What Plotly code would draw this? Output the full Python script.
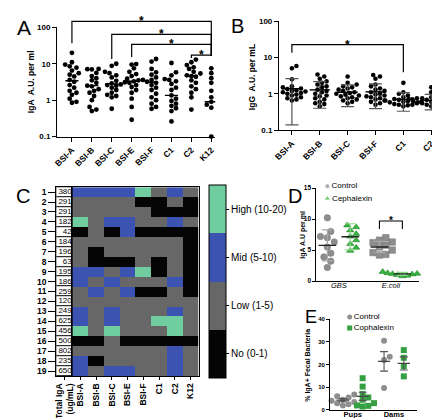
import numpy as np
import plotly.graph_objects as go

W, H = 440, 418
FONT = "Arial, 'Liberation Sans', sans-serif"

def fx(p):
    return p / W

def fy(p):
    return 1 - p / H

# ---------------- Panel A data (IgA, log scale) ----------------
a_cats = ["BSI-A", "BSI-B", "BSI-C", "BSI-E", "BSI-F", "C1", "C2", "K12"]
a_bsi_a = [20, 11, 9.5, 8.5, 7.8, 6.5, 5.5, 5.0, 4.5, 3.6, 3.2, 2.6, 2.2, 1.8, 1.6, 1.4, 1.1, 0.9, 0.85]
a_bsi_b = [7.2, 7.1, 7.0, 5.6, 4.6, 4.0, 3.5, 3.0, 2.5, 2.4, 2.0, 1.8, 1.6, 1.3, 1.0, 0.65, 0.55, 0.5]
a_bsi_c = [10, 8.8, 6.0, 5.5, 4.8, 4.2, 3.4, 2.9, 2.7, 2.6, 2.5, 2.2, 1.9, 1.6, 1.4, 1.3, 1.2, 0.58]
a_bsi_e = [9.8, 9.5, 7.5, 6.0, 5.2, 4.6, 3.9, 3.6, 3.5, 3.3, 3.1, 3.0, 2.6, 2.3, 1.9, 1.6, 1.1, 0.65, 0.29]
a_bsi_f = [13.5, 11.5, 7.2, 5.8, 5.0, 4.2, 3.6, 3.2, 3.0, 2.6, 2.2, 1.9, 1.5, 1.2, 1.0, 0.8, 0.65, 0.58]
a_c1 = [10.5, 5.8, 4.8, 3.8, 3.6, 3.3, 2.8, 2.2, 1.9, 1.35, 1.1, 0.95, 0.8, 0.7, 0.6, 0.5, 0.26]
a_c2 = [13, 11, 9.2, 8.0, 7.2, 6.0, 5.4, 4.8, 4.6, 4.4, 3.5, 3.0, 2.4, 2.0, 1.6, 1.2, 0.55]
a_k12 = [7.5, 6.5, 5.5, 4.6, 4.0, 3.5, 3.0, 2.2, 1.8, 1.2, 1.0, 0.9, 0.8, 0.75, 0.7, 0.62, 0.1]
a_median = [3.4, 2.5, 2.8, 3.3, 3.1, 1.35, 4.7, 0.9]
a_sig_pairs = [("BSI-A", "K12"), ("BSI-C", "K12"), ("BSI-E", "K12"), ("C2", "K12")]

# ---------------- Panel B data (IgG, log scale) ----------------
b_cats = ["BSI-A", "BSI-B", "BSI-C", "BSI-F", "C1", "C2"]
b_bsi_a = [5.8, 5.0, 2.5, 1.6, 1.5, 1.4, 1.35, 1.3, 1.25, 1.2, 1.15, 1.1, 1.05, 1.0, 0.95, 0.9, 0.8, 0.75, 0.7, 0.65]
b_bsi_b = [3.4, 3.0, 2.6, 2.2, 2.0, 1.8, 1.6, 1.5, 1.3, 1.2, 1.1, 1.0, 0.9, 0.85, 0.75, 0.7, 0.6, 0.55, 0.52, 0.45]
b_bsi_c = [3.0, 2.0, 1.8, 1.6, 1.5, 1.4, 1.3, 1.2, 1.1, 1.05, 1.0, 0.95, 0.9, 0.85, 0.8, 0.75, 0.7, 0.65, 0.6, 0.55]
b_bsi_f = [3.3, 3.0, 2.6, 1.8, 1.6, 1.4, 1.3, 1.2, 1.1, 1.0, 0.95, 0.9, 0.85, 0.8, 0.75, 0.7, 0.65, 0.6, 0.55, 0.5]
b_c1 = [2.0, 1.1, 1.0, 0.9, 0.8, 0.75, 0.72, 0.7, 0.68, 0.65, 0.63, 0.6, 0.6, 0.58, 0.55, 0.52, 0.5, 0.5, 0.48, 0.45]
b_c2 = [1.5, 1.1, 0.95, 0.85, 0.8, 0.75, 0.72, 0.7, 0.68, 0.65, 0.65, 0.62, 0.6, 0.6, 0.58, 0.55, 0.55, 0.52, 0.5, 0.48, 0.45]
b_mean = [1.38, 1.28, 1.1, 1.13, 0.70, 0.66]
b_sd = [1.24, 0.88, 0.66, 0.74, 0.37, 0.30]
b_sig_pairs = [("BSI-A", "C1")]

# ---------------- Panel C data (heatmap) ----------------
c_strains = ["BSI-A", "BSI-B", "BSI-C", "BSI-E", "BSI-F", "C1", "C2", "K12"]
c_rows = list(range(1, 20))
c_total_iga = [380, 291, 291, 182, 42, 184, 196, 63, 195, 186, 259, 120, 249, 625, 456, 500, 802, 235, 650]
c_levels = [
    [2, 2, 2, 2, 3, 1, 2, 1],
    [1, 1, 1, 1, 0, 0, 1, 0],
    [1, 1, 1, 1, 1, 0, 0, 0],
    [3, 1, 2, 2, 1, 1, 2, 1],
    [0, 1, 0, 2, 0, 0, 0, 0],
    [1, 1, 1, 1, 1, 1, 1, 0],
    [1, 0, 1, 1, 1, 1, 1, 0],
    [1, 0, 0, 0, 1, 0, 1, 0],
    [2, 2, 1, 2, 3, 0, 1, 0],
    [2, 1, 2, 1, 1, 1, 2, 0],
    [1, 2, 1, 2, 0, 0, 1, 0],
    [1, 1, 1, 1, 1, 1, 1, 1],
    [2, 1, 2, 1, 1, 1, 2, 1],
    [2, 1, 2, 1, 1, 3, 3, 1],
    [3, 1, 3, 1, 1, 1, 3, 1],
    [0, 0, 1, 0, 0, 0, 0, 0],
    [1, 1, 1, 1, 1, 1, 2, 1],
    [2, 0, 1, 1, 1, 1, 2, 1],
    [2, 1, 2, 2, 1, 1, 2, 1],
]
c_level_names = ["No (0-1)", "Low (1-5)", "Mid (5-10)", "High (10-20)"]

# ---------------- Panel D data ----------------
d_groups = ["GBS", "E.coli"]
d_gbs_ctrl = [10.2, 8.0, 7.2, 7.0, 6.3, 5.5, 4.5, 3.9, 3.2, 2.2]
d_gbs_ceph = [9.0, 8.7, 8.2, 7.6, 7.2, 6.6, 6.0, 5.4, 4.9]
d_eco_ctrl = [7.0, 6.6, 6.3, 6.2, 5.8, 5.5, 5.0, 4.6, 4.3, 4.2]
d_eco_ceph = [1.5, 1.4, 1.3, 1.2, 1.15, 1.1, 1.0, 0.9, 0.8]
d_ctrl_mean = [5.75, 5.5]
d_ctrl_sd = [2.5, 0.9]
d_ceph_mean = [7.15, 1.15]
d_ceph_sd = [2.1, 0.25]
d_legend = ["Control", "Cephalexin"]

# ---------------- Panel E data ----------------
e_groups = ["Pups", "Dams"]
e_pup_ctrl = [6.8, 6.0, 5.5, 4.5, 4.0, 3.5, 3.0, 2.5, 2.0]
e_pup_ceph = [14.0, 10.3, 7.0, 5.5, 4.5, 3.0, 2.0, 1.8, 1.5]
e_dam_ctrl = [30.5, 23.5, 22.0, 9.7]
e_dam_ceph = [26.4, 23.0, 19.3, 14.8]
e_ctrl_mean = [4.3, 21.4]
e_ctrl_sem = [0.7, 4.3]
e_ceph_mean = [6.0, 20.5]
e_ceph_sem = [1.8, 2.9]
e_legend = ["Control", "Cophalexin"]

# ---------------- colours ----------------
HM_BLACK = "#050505"
HM_GRAY = "#676767"
HM_BLUE = "#3d53b2"
HM_GREEN = "#70cda0"
D_GRAY = "#8e8e8e"
D_GREEN = "#34b43c"
E_GREEN = "#35a042"


def swarm(vals, log, xpx, ypx, d):
    """Beeswarm offsets (in axis x units) so markers of diameter d px don't overlap."""
    v = np.asarray(vals, float)
    yv = (np.log10(v) if log else v) * ypx
    order = np.argsort(yv)
    pts = []
    offs = np.zeros(len(v))
    step = d * 0.5
    cands = [0.0]
    for j in range(1, 40):
        cands += [j * step, -j * step]
    for i in order:
        chosen = 0.0
        for c in cands:
            if all((c - px) ** 2 + (yv[i] - py) ** 2 >= d * d * 0.9 for px, py in pts):
                chosen = c
                break
        pts.append((chosen, yv[i]))
        offs[i] = chosen / xpx
    return offs


def seg_lines(centers, values, half):
    xs, ys = [], []
    for c, v in zip(centers, values):
        xs += [c - half, c + half, None]
        ys += [v, v, None]
    return xs, ys


fig = go.Figure()

# ================= Panel A =================
a_series = [a_bsi_a, a_bsi_b, a_bsi_c, a_bsi_e, a_bsi_f, a_c1, a_c2, a_k12]
for i, vals in enumerate(a_series):
    offs = swarm(vals, True, 20.3, 37.2, 4.6)
    fig.add_trace(go.Scatter(x=i + offs, y=vals, mode="markers", cliponaxis=False,
                             marker=dict(size=4.8, color="black"), xaxis="x", yaxis="y"))
mx, my = seg_lines(range(len(a_cats)), a_median, 0.33)
fig.add_trace(go.Scatter(x=mx, y=my, mode="lines", line=dict(color="black", width=1.4),
                         xaxis="x", yaxis="y"))

# ================= Panel B =================
b_series = [b_bsi_a, b_bsi_b, b_bsi_c, b_bsi_f, b_c1, b_c2]
for i, vals in enumerate(b_series):
    offs = swarm(vals, True, 28.4, 37.2, 4.6)
    fig.add_trace(go.Scatter(x=i + offs, y=vals, mode="markers", cliponaxis=False,
                             marker=dict(size=4.6, color="black"), xaxis="x2", yaxis="y2"))
fig.add_trace(go.Scatter(x=list(range(len(b_cats))), y=b_mean, mode="markers",
                         marker=dict(size=1, color="rgba(0,0,0,0)"),
                         error_y=dict(type="data", array=b_sd, color="#555555", thickness=1.2, width=6.5),
                         xaxis="x2", yaxis="y2"))
bx, by = seg_lines(range(len(b_cats)), b_mean, 0.36)
fig.add_trace(go.Scatter(x=bx, y=by, mode="lines", line=dict(color="black", width=1.4),
                         xaxis="x2", yaxis="y2"))

# ================= Panel C =================
fig.add_trace(go.Heatmap(
    z=c_levels, x=list(range(len(c_strains))), y=c_rows,
    zmin=-0.5, zmax=3.5,
    colorscale=[[0, HM_BLACK], [0.25, HM_BLACK], [0.25, HM_GRAY], [0.5, HM_GRAY],
                [0.5, HM_BLUE], [0.75, HM_BLUE], [0.75, HM_GREEN], [1, HM_GREEN]],
    showscale=True,
    colorbar=dict(
        x=fx(199), xanchor="left", xpad=0, ypad=0,
        y=fy(275.5), yanchor="middle",
        thickness=17, thicknessmode="pixels",
        len=193, lenmode="pixels",
        outlinewidth=1, outlinecolor="black",
        tickvals=[0, 1, 2, 3], ticktext=c_level_names,
        ticks="outside", ticklen=3, tickcolor="black",
        tickfont=dict(family=FONT, size=10, color="black"),
    ),
    xaxis="x4", yaxis="y4"))

fig.add_trace(go.Heatmap(
    z=[[0] for _ in c_rows], x=[0.5], y=c_rows,
    colorscale=[[0, "white"], [1, "white"]], showscale=False, ygap=1,
    xaxis="x3", yaxis="y3"))
fig.add_trace(go.Scatter(
    x=[0.96] * len(c_rows), y=c_rows, mode="text", text=[str(v) for v in c_total_iga],
    textposition="middle left", textfont=dict(family=FONT, size=8, color="black"),
    xaxis="x3", yaxis="y3"))

# ================= Panel D =================
D_OFF = 0.22
d_pts = [
    (0 - D_OFF, d_gbs_ctrl, "circle", D_GRAY, 7),
    (0 + D_OFF, d_gbs_ceph, "triangle-up", D_GREEN, 6),
    (1 - D_OFF, d_eco_ctrl, "square", D_GRAY, 6.5),
    (1 + D_OFF, d_eco_ceph, "triangle-up", D_GREEN, 5),
]
for xc, vals, sym, col, dd in d_pts:
    offs = swarm(vals, False, 53, 6.35, dd)
    fig.add_trace(go.Scatter(x=xc + offs, y=vals, mode="markers", cliponaxis=False,
                             marker=dict(size=6.5, color=col, symbol=sym,
                                         line=dict(width=0.5, color="#1e7a25" if col == D_GREEN else "#777777")),
                             xaxis="x5", yaxis="y5"))
d_ctrl_x = [g - D_OFF for g in range(len(d_groups))]
d_ceph_x = [g + D_OFF for g in range(len(d_groups))]
fig.add_trace(go.Scatter(x=d_ctrl_x, y=d_ctrl_mean, mode="markers", marker=dict(size=1, color="rgba(0,0,0,0)"),
                         error_y=dict(type="data", array=d_ctrl_sd, color="#a8a8a8", thickness=1.2, width=5.5),
                         xaxis="x5", yaxis="y5"))
fig.add_trace(go.Scatter(x=d_ceph_x, y=d_ceph_mean, mode="markers", marker=dict(size=1, color="rgba(0,0,0,0)"),
                         error_y=dict(type="data", array=d_ceph_sd, color="#8fd98f", thickness=1.2, width=5.5),
                         xaxis="x5", yaxis="y5"))
dx1, dy1 = seg_lines(d_ctrl_x + d_ceph_x, d_ctrl_mean + d_ceph_mean, 0.17)
fig.add_trace(go.Scatter(x=dx1, y=dy1, mode="lines", line=dict(color="#222222", width=1.3),
                         xaxis="x5", yaxis="y5"))

# legend D (small helper subplot)
fig.add_trace(go.Scatter(x=[0.08, 0.08], y=[0.75, 0.22], mode="markers+text",
                         marker=dict(size=[5, 6], color=[D_GRAY, D_GREEN], symbol=["circle", "triangle-up"]),
                         text=d_legend, textposition="middle right",
                         textfont=dict(family=FONT, size=8, color="black"),
                         xaxis="x7", yaxis="y7"))

# ================= Panel E =================
E_OFF = 0.24
e_pts = [
    (0 - E_OFF, e_pup_ctrl, "circle", D_GRAY),
    (0 + E_OFF, e_pup_ceph, "square", E_GREEN),
    (1 - E_OFF, e_dam_ctrl, "circle", D_GRAY),
    (1 + E_OFF, e_dam_ceph, "square", E_GREEN),
]
for xc, vals, sym, col in e_pts:
    offs = swarm(vals, False, 42, 2.31, 5.8)
    fig.add_trace(go.Scatter(x=xc + offs, y=vals, mode="markers", cliponaxis=False,
                             marker=dict(size=6, color=col, symbol=sym, line=dict(width=0)),
                             xaxis="x6", yaxis="y6"))
e_ctrl_x = [g - E_OFF for g in range(len(e_groups))]
e_ceph_x = [g + E_OFF for g in range(len(e_groups))]
fig.add_trace(go.Scatter(x=e_ctrl_x + e_ceph_x, y=e_ctrl_mean + e_ceph_mean, mode="markers",
                         marker=dict(size=1, color="rgba(0,0,0,0)"),
                         error_y=dict(type="data", array=e_ctrl_sem + e_ceph_sem, color="#555555",
                                      thickness=1.1, width=4),
                         xaxis="x6", yaxis="y6"))
ex1, ey1 = seg_lines(e_ctrl_x + e_ceph_x, e_ctrl_mean + e_ceph_mean, 0.15)
fig.add_trace(go.Scatter(x=ex1, y=ey1, mode="lines", line=dict(color="#444444", width=1.2),
                         xaxis="x6", yaxis="y6"))

fig.add_trace(go.Scatter(x=[0.08, 0.08], y=[0.73, 0.28], mode="markers+text",
                         marker=dict(size=5, color=[D_GRAY, E_GREEN], symbol=["circle", "square"]),
                         text=e_legend, textposition="middle right",
                         textfont=dict(family=FONT, size=8, color="black"),
                         xaxis="x8", yaxis="y8"))

# ================= axes =================
tick_b = dict(family=FONT, size=8, color="black", weight="bold")
base = dict(showline=True, linecolor="black", linewidth=1.3, ticks="outside", ticklen=4,
            tickwidth=1.2, tickcolor="black", showgrid=False, zeroline=False, tickfont=tick_b)

layout = dict(
    width=W, height=418, margin=dict(l=0, r=0, t=0, b=0),
    paper_bgcolor="white", plot_bgcolor="white", showlegend=False,
    font=dict(family=FONT, color="black"),
    xaxis=dict(base, domain=[fx(44), fx(205)], range=[-0.74, 7.2], tickvals=list(range(len(a_cats))),
               ticktext=a_cats, tickangle=-45, anchor="y",
               tickfont=dict(family=FONT, size=8.5, color="black", weight="bold")),
    yaxis=dict(base, domain=[fy(127.3), fy(15.7)], type="log", range=[-1, 2],
               tickvals=[0.1, 1, 10, 100], ticktext=["0.1", "1", "10", "100"], anchor="x"),
    xaxis2=dict(base, domain=[fx(270), fx(438)], range=[-0.46, 5.46], tickvals=list(range(len(b_cats))),
                ticktext=b_cats, tickangle=-45, anchor="y2",
                tickfont=dict(family=FONT, size=8.5, color="black", weight="bold")),
    yaxis2=dict(base, domain=[fy(120.7), fy(9.3)], type="log", range=[-1, 2],
                tickvals=[0.1, 1, 10, 100], ticktext=["0.1", "1", "10", "100"], anchor="x2"),
    xaxis3=dict(base, domain=[fx(43), fx(59.5)], range=[0, 1], tickvals=[0.5],
                ticktext=["Total IgA<br>(ug/mL)"], tickangle=-90, ticklen=3, mirror=True, linewidth=1,
                tickfont=dict(family=FONT, size=8.5, color="black", weight="bold"), anchor="y3"),
    yaxis3=dict(base, domain=[fy(372), fy(179)], range=[19.5, 0.5], tickvals=c_rows,
                ticktext=[str(r) for r in c_rows], ticklen=7, mirror=True, linewidth=1,
                tickfont=dict(family=FONT, size=8.5, color="black", weight="bold"), anchor="x3"),
    xaxis4=dict(base, domain=[fx(59.5), fx(188)], range=[-0.5, 7.5], tickvals=list(range(len(c_strains))),
                ticktext=c_strains, tickangle=-90, ticklen=3, linewidth=1, mirror=True,
                tickfont=dict(family=FONT, size=8.5, color="black", weight="bold"), anchor="y4"),
    yaxis4=dict(base, domain=[fy(372), fy(179)], range=[19.5, 0.5], showticklabels=False, ticks="",
                linewidth=1, mirror=True, anchor="x4"),
    xaxis5=dict(base, domain=[fx(308), fx(412)], range=[-0.43, 1.53], tickvals=[0, 1],
                ticktext=["<i>" + g + "</i>" for g in d_groups], ticks="", linewidth=1.1,
                ticklabelstandoff=-3,
                tickfont=dict(family=FONT, size=7.5, color="black"), anchor="y5"),
    yaxis5=dict(base, domain=[fy(275), fy(180)], range=[0, 15], tickvals=[0, 5, 10, 15], ticklen=3,
                linewidth=1.1, tickfont=dict(family=FONT, size=6.5, color="black", weight="bold"), anchor="x5"),
    xaxis6=dict(base, domain=[fx(322), fx(410)], range=[-0.55, 1.55], tickvals=[0, 1], ticktext=e_groups,
                ticks="", ticklabelstandoff=-3, linewidth=1.1,
                tickfont=dict(family=FONT, size=7.5, color="black", weight="bold"),
                anchor="y6"),
    yaxis6=dict(base, domain=[fy(406.7), fy(314)], range=[0, 40], tickvals=[0, 10, 20, 30, 40], ticklen=3,
                linewidth=1.1, tickfont=dict(family=FONT, size=6, color="black", weight="bold"), anchor="x6"),
    xaxis7=dict(domain=[fx(313), fx(390)], range=[0, 1], visible=False, anchor="y7"),
    yaxis7=dict(domain=[fy(196), fy(172)], range=[0, 1], visible=False, anchor="x7"),
    xaxis8=dict(domain=[fx(336), fx(410)], range=[0, 1], visible=False, anchor="y8"),
    yaxis8=dict(domain=[fy(330), fy(305)], range=[0, 1], visible=False, anchor="x8"),
)
fig.update_layout(**layout)

# ================= shapes: brackets, backgrounds =================
shapes = []
shapes.append(dict(type="rect", xref="x3 domain", yref="y3 domain", x0=0, x1=1, y0=0, y1=1,
                    fillcolor="black", line=dict(width=0), layer="below"))

a_br_h = [1.054, 0.935, 0.845, 0.746]
a_br_leg_left = [0.854, 0.71, 0.728, 0.72]
a_br_leg_right = [0.74, 0.74, 0.74, 0.74]
annots = []
for (ca, cb), h, la, lb in zip(a_sig_pairs, a_br_h, a_br_leg_left, a_br_leg_right):
    xa, xb = a_cats.index(ca), a_cats.index(cb)
    shapes.append(dict(type="path", xref="x", yref="y domain",
                       path=f"M {xa},{la} L {xa},{h} L {xb},{h} L {xb},{lb}",
                       line=dict(color="black", width=1.2)))
    annots.append(dict(x=(xa + xb) / 2, y=h, xref="x", yref="y domain", text="<b>*</b>", showarrow=False,
                       yanchor="middle", font=dict(size=12, color="black", family=FONT)))

for (ca, cb) in b_sig_pairs:
    xa, xb = b_cats.index(ca), b_cats.index(cb)
    shapes.append(dict(type="path", xref="x2", yref="y2 domain",
                       path=f"M {xa},0.709 L {xa},0.784 L {xb},0.784 L {xb},0.53",
                       line=dict(color="black", width=1.2)))
    annots.append(dict(x=(xa + xb) / 2, y=0.784, xref="x2", yref="y2 domain", text="<b>*</b>", showarrow=False,
                       yanchor="middle", font=dict(size=12, color="black", family=FONT)))

# D bracket E.coli control vs cephalexin
xa, xb = 1 - D_OFF, 1 + D_OFF
shapes.append(dict(type="path", xref="x5", yref="y5",
                   path=f"M {xa},8.4 L {xa},9.7 L {xb},9.7 L {xb},8.4",
                   line=dict(color="black", width=1.1)))
annots.append(dict(x=1, y=9.7, xref="x5", yref="y5", text="<b>*</b>", showarrow=False,
                   yanchor="middle", font=dict(size=10, color="black", family=FONT)))

# panel letters
for lab, px, py, sz in [("A", 1, 2, 21), ("B", 219, 1, 20), ("C", 0, 175, 20), ("D", 277, 175, 20),
                        ("E", 294, 299, 18)]:
    annots.append(dict(x=fx(px), y=fy(py), xref="paper", yref="paper", text=lab, showarrow=False,
                       xanchor="left", yanchor="top", font=dict(size=sz, color="black", family=FONT)))

# y titles
for txt, px, py, sz in [("IgA  A.U. per ml", 18, 71, 8.5), ("IgG  A.U. per mL", 242, 67, 8.5),
                        ("IgA A.U per ml", 294, 228, 7), ("% IgA+ Fecal Bacteria", 300, 361, 7)]:
    annots.append(dict(x=fx(px), y=fy(py), xref="paper", yref="paper", text=txt, showarrow=False,
                       textangle=-90, xanchor="center", yanchor="middle",
                       font=dict(size=sz, color="black", family=FONT, weight="bold")))

fig.update_layout(shapes=shapes, annotations=annots)
fig.write_html("out.html")
